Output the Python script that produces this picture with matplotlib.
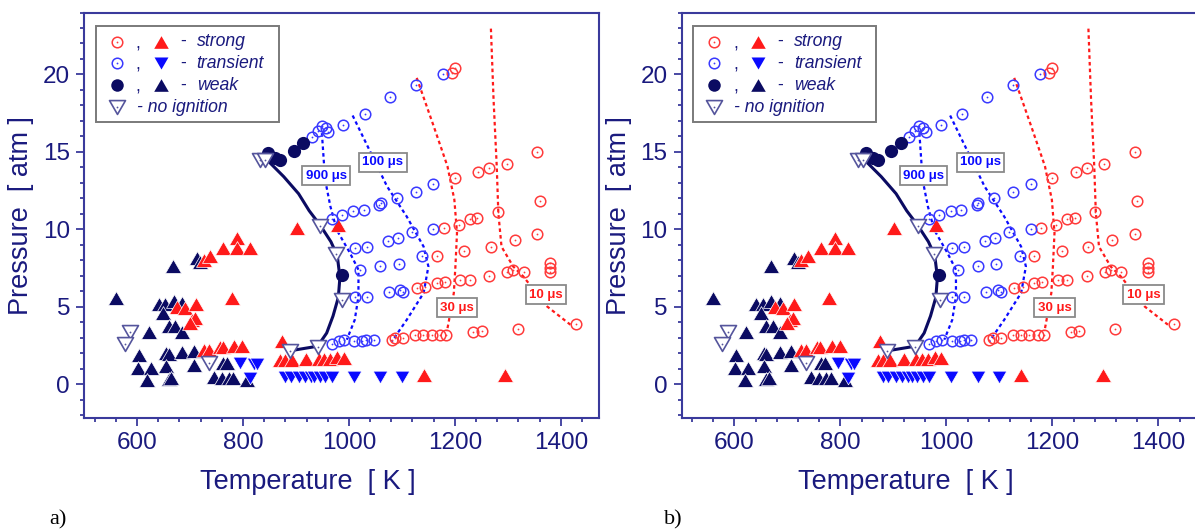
import numpy as np
import matplotlib.pyplot as plt
from matplotlib.path import Path
from matplotlib.ticker import MultipleLocator

plt.rcParams['font.family'] = ['Liberation Sans', 'DejaVu Sans']

# colours
RED = '#ff1a1a'
RED_O = '#ff3b3b'
BLUE = '#0a0aff'
BLUE_O = '#3a3aff'
NAVY = '#0b0b62'
AXC = '#3a3a9c'
TXT = '#1a1a7e'
NOIGN = '#55559c'

# ---- data (T in K, P in atm) ----
strong_circ_T = [1200, 1194, 1244, 1265, 1298, 1355, 1200, 1281, 1360, 1207, 1228, 1242, 1179,
                 1313, 1355, 1268, 1218, 1166, 1210, 1228, 1265, 1299, 1310, 1330, 1380, 1380,
                 1380, 1128, 1144, 1166, 1181, 1429, 1319, 1235, 1251, 1125, 1140, 1156, 1172,
                 1184, 1081, 1087, 1103]
strong_circ_P = [20.4, 20.1, 13.7, 13.95, 14.2, 14.98, 13.31, 11.09, 11.83, 10.26, 10.65, 10.75, 10.06,
                 9.32, 9.72, 8.88, 8.63, 8.25, 6.74, 6.74, 7.01, 7.27, 7.40, 7.27, 7.80, 7.50,
                 7.26, 6.22, 6.27, 6.52, 6.57, 3.86, 3.56, 3.34, 3.45, 3.17, 3.17, 3.17, 3.17,
                 3.17, 2.82, 2.97, 2.97]

trans_circ_T = [930, 941, 949, 956, 961, 989, 1030, 1077, 1126, 1177,
                968, 986, 1008, 1028, 1057, 1060, 1090, 1126, 1159,
                1011, 1034, 1073, 1092, 1119, 1159,
                1021, 1059, 1094, 1138,
                1011, 1034, 1075, 1097, 1103,
                968, 981, 991, 1010, 1025, 1033, 1047]
trans_circ_P = [15.97, 16.36, 16.66, 16.56, 16.26, 16.76, 17.44, 18.53, 19.32, 20.0,
                10.65, 10.95, 11.19, 11.24, 11.54, 11.73, 12.03, 12.42, 12.92,
                8.78, 8.88, 9.27, 9.47, 9.81, 10.01,
                7.40, 7.60, 7.75, 8.25,
                5.63, 5.63, 5.93, 6.07, 5.93,
                2.58, 2.78, 2.87, 2.78, 2.78, 2.87, 2.87]

weak_circ_T = [848, 861, 870, 896, 914, 986]
weak_circ_P = [14.93, 14.6, 14.5, 15.03, 15.57, 7.07]

strong_tri_T = [789, 763, 789, 814, 726, 738, 779, 676, 691, 712, 704, 710, 700, 726, 735, 756,
                762, 784, 799, 874, 870, 880, 893, 919, 943, 953, 965, 978, 990, 902, 980,
                1141, 1295]
strong_tri_P = [9.44, 8.79, 8.79, 8.79, 8.04, 8.25, 5.56, 4.98, 4.92, 5.19, 4.16, 4.27, 3.95, 2.22,
                2.22, 2.37, 2.37, 2.48, 2.48, 2.76, 1.58, 1.58, 1.58, 1.62, 1.62, 1.62, 1.65,
                1.75, 1.69, 10.08, 10.3, 0.6, 0.6]

trans_tri_T = [795, 820, 826, 814, 880, 890, 905, 917, 928, 935, 945, 955, 968, 1009, 1059, 1100]
trans_tri_P = [1.36, 1.3, 1.3, 0.39, 0.45, 0.45, 0.45, 0.45, 0.45, 0.45, 0.45, 0.45, 0.45,
               0.45, 0.45, 0.45]

weak_tri_T = [560, 668, 713, 719, 641, 653, 669, 685, 650, 660, 672, 685, 622, 603, 601, 626,
              619, 655, 660, 655, 660, 665, 685, 707, 707, 763, 770, 745, 760, 773, 782, 808]
weak_tri_P = [5.56, 7.6, 8.15, 7.9, 5.19, 5.19, 5.34, 5.24, 4.59, 3.73, 3.73, 3.4, 3.4, 1.9, 1.04,
              1.04, 0.28, 2.0, 1.95, 1.14, 0.35, 0.4, 2.05, 2.11, 1.25, 1.36, 1.36, 0.46, 0.39,
              0.39, 0.39, 0.28]

noign_T = [587, 577, 735, 888, 941, 987, 976, 946, 833, 842]
noign_P = [3.4, 2.6, 1.36, 2.11, 2.4, 5.45, 8.42, 10.23, 14.5, 14.5]

# ignition limit (solid line)
limit_T = [888, 941, 958, 970, 980, 983, 978, 966, 946, 925, 905, 877, 842]
limit_P = [2.15, 2.45, 3.3, 4.4, 5.6, 6.9, 8.3, 9.2, 10.25, 11.2, 12.3, 13.4, 14.6]

# isochrones (dotted)
iso900_T = [949, 955, 965, 977, 1002, 1018, 1018, 1011, 996]
iso900_P = [16.21, 13.21, 11.48, 9.96, 8.47, 7.39, 5.66, 4.15, 2.87]
iso100_T = [1007, 1040, 1072, 1109, 1141, 1150, 1141, 1109, 1081]
iso100_P = [17.35, 15.03, 12.77, 10.83, 8.88, 7.6, 5.89, 4.15, 2.76]
iso30_T = [1128, 1160, 1186, 1199, 1204, 1201, 1198, 1189, 1185]
iso30_P = [19.78, 16.66, 14.07, 11.91, 9.77, 7.6, 5.89, 4.15, 3.41]
iso10_T = [1268, 1273, 1279, 1282, 1288, 1310, 1329, 1374, 1418]
iso10_P = [22.96, 18.37, 14.07, 11.05, 8.88, 7.6, 6.96, 5.02, 3.84]

label_text = ['900 \u03bcs', '100 \u03bcs', '30 \u03bcs', '10 \u03bcs']
label_T = [957, 1064, 1204, 1372]
label_P = [13.46, 14.33, 4.94, 5.78]
label_col = [BLUE, BLUE, RED, RED]

# equilateral triangle markers
TRI_UP = Path([(-1, -0.866), (1, -0.866), (0, 0.866), (-1, -0.866)], closed=True)
TRI_DN = Path([(-1, 0.866), (1, 0.866), (0, -0.866), (-1, 0.866)], closed=True)


def open_circles(ax, T, P, col, z=5, **kw):
    ax.plot(T, P, ls='none', marker='o', ms=7.6, mew=1.1, mfc='none', mec=col, zorder=z, **kw)
    ax.plot(T, P, ls='none', marker='o', ms=1.3, mew=0, color=col, zorder=z, **kw)


def no_ign(ax, T, P, z=6, **kw):
    ax.plot(T, P, ls='none', marker=TRI_DN, ms=11.5, mew=1.2, mfc='white', mec=NOIGN, zorder=z, **kw)
    ax.plot(T, P, ls='none', marker='o', ms=1.3, mew=0, color=NOIGN, zorder=z, **kw)


def draw_panel(ax):
    dots = (0, (1.6, 1.4))
    ax.plot(iso900_T, iso900_P, color=BLUE, lw=1.6, ls=dots, zorder=2)
    ax.plot(iso100_T, iso100_P, color=BLUE, lw=1.6, ls=dots, zorder=2)
    ax.plot(iso30_T, iso30_P, color=RED, lw=1.6, ls=dots, zorder=2)
    ax.plot(iso10_T, iso10_P, color=RED, lw=1.6, ls=dots, zorder=2)
    ax.plot(limit_T, limit_P, color=NAVY, lw=2.2, zorder=3)

    ax.plot(weak_tri_T, weak_tri_P, ls='none', marker=TRI_UP, ms=11.5, color=NAVY,
            mec='white', mew=0.5, zorder=4)
    ax.plot(strong_tri_T, strong_tri_P, ls='none', marker=TRI_UP, ms=11.5, color=RED,
            mec='white', mew=0.5, zorder=4)
    ax.plot(trans_tri_T, trans_tri_P, ls='none', marker=TRI_DN, ms=10.5, color=BLUE,
            mec='white', mew=0.5, zorder=4)
    open_circles(ax, strong_circ_T, strong_circ_P, RED_O)
    open_circles(ax, trans_circ_T, trans_circ_P, BLUE_O)
    ax.plot(weak_circ_T, weak_circ_P, ls='none', marker='o', ms=9.5, color=NAVY, mew=0, zorder=5)
    no_ign(ax, noign_T, noign_P)

    for t, x, y, c in zip(label_text, label_T, label_P, label_col):
        ax.text(x, y, t, ha='center', va='center', fontsize=9.5, fontweight='bold', color=c,
                zorder=7, bbox=dict(boxstyle='square,pad=0.25', fc='white', ec='#8a8a8a', lw=1.3))

    ax.set_xlim(500, 1472)
    ax.set_ylim(-2.2, 24)
    ax.xaxis.set_major_locator(MultipleLocator(200))
    ax.xaxis.set_minor_locator(MultipleLocator(40))
    ax.yaxis.set_major_locator(MultipleLocator(5))
    ax.yaxis.set_minor_locator(MultipleLocator(1))
    ax.tick_params(which='both', direction='out', color=AXC, labelcolor=TXT, labelsize=17.5,
                   width=1.3, top=False, right=False)
    ax.tick_params(which='major', length=6, pad=4)
    ax.tick_params(which='minor', length=3.2)
    for s in ax.spines.values():
        s.set_color(AXC)
        s.set_linewidth(1.5)

    ax.set_xlabel('Temperature  [ K ]', fontsize=19.5, color=TXT)
    ax.xaxis.set_label_coords(0.435, -0.125)
    ax.set_ylabel('Pressure  [ atm ]', fontsize=19.5, color=TXT)
    ax.yaxis.set_label_coords(-0.097, 0.5)

    # legend drawn by hand (Origin style)
    tr = ax.transAxes
    ax.add_patch(plt.Rectangle((0.0233, 0.7308), 0.3553, 0.2359, transform=tr, fc='white',
                               ec='#7a7a7a', lw=1.4, zorder=8))
    rows = [0.928, 0.875, 0.8213, 0.7663]
    kw = dict(transform=tr, clip_on=False)
    open_circles(ax, [0.0635], [rows[0]], RED_O, z=9, **kw)
    open_circles(ax, [0.0635], [rows[1]], BLUE_O, z=9, **kw)
    ax.plot([0.0635], [rows[2]], marker='o', ms=9, color=NAVY, mew=0, zorder=9, **kw)
    no_ign(ax, [0.0635], [rows[3]], z=9, **kw)
    ax.plot([0.1495], [rows[0]], marker=TRI_UP, ms=10.5, color=RED, mew=0, zorder=9, **kw)
    ax.plot([0.1495], [rows[1]], marker=TRI_DN, ms=10, color=BLUE, mew=0, zorder=9, **kw)
    ax.plot([0.1495], [rows[2]], marker=TRI_UP, ms=10.5, color=NAVY, mew=0, zorder=9, **kw)
    for y, name in zip(rows[:3], ['strong', 'transient', 'weak']):
        ax.text(0.1049, y - 0.005, ',', transform=tr, fontsize=12.7, color=TXT, ha='center',
                va='center', zorder=9)
        ax.text(0.1922, y, '-', transform=tr, fontsize=12.7, color=TXT, ha='center',
                va='center', zorder=9)
        ax.text(0.2188, y, name, transform=tr, fontsize=12.7, style='italic', color=TXT,
                ha='left', va='center', zorder=9)
    ax.text(0.1023, rows[3], '- no ignition', transform=tr, fontsize=12.7, style='italic',
            color=TXT, ha='left', va='center', zorder=9)


fig = plt.figure(figsize=(11.95, 5.31), dpi=100)
ax_a = fig.add_axes([84 / 1195, 0.2124, 515 / 1195, 0.764])
ax_b = fig.add_axes([681.5 / 1195, 0.2124, 515 / 1195, 0.764])
draw_panel(ax_a)
draw_panel(ax_b)

fig.text(0.041, 0.013, 'a)', family='Liberation Serif', fontsize=16, va='baseline')
fig.text(0.5556, 0.013, 'b)', family='Liberation Serif', fontsize=16, va='baseline')

fig.savefig('out.png', dpi=100)
